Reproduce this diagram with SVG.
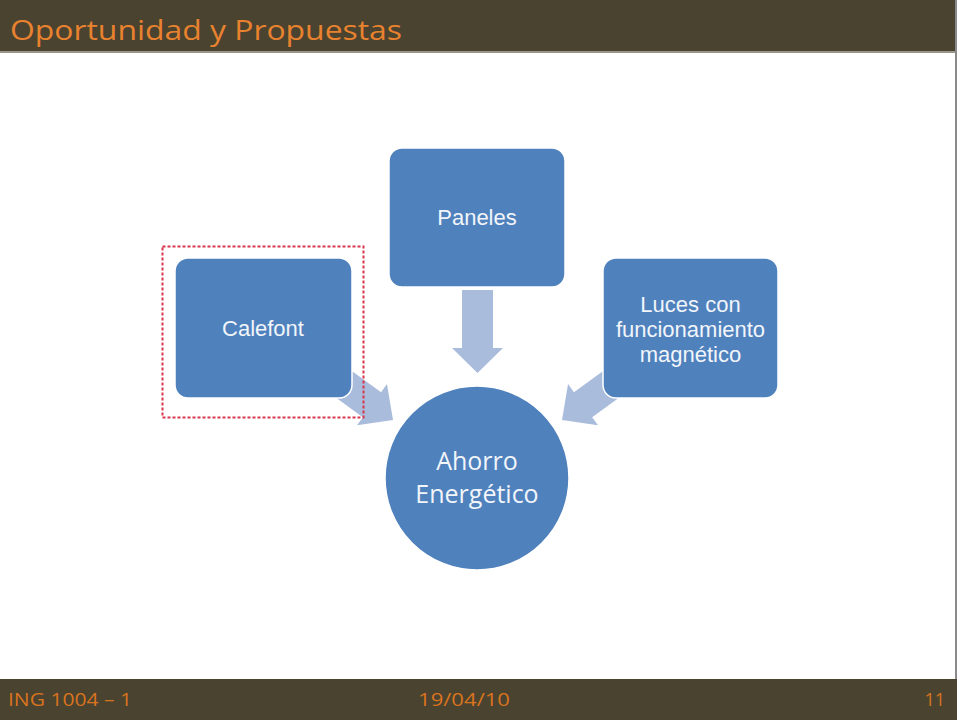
<svg xmlns="http://www.w3.org/2000/svg" width="960" height="720" viewBox="0 0 960 720">
<style>
.bar{fill:#4A4330}
.box{fill:#4F81BD;stroke:#FFFFFF;stroke-width:1.5}
.arr{fill:#A9BCDC}
.lbl{font-family:"Liberation Sans",Arial,sans-serif;fill:#F2F5FA;text-anchor:middle;font-size:22px}
.big{font-family:"Open Sans","Liberation Sans",sans-serif;fill:#F2F5FA;text-anchor:middle;font-size:25px}
.ftr{font-family:"Open Sans","Liberation Sans",sans-serif;fill:#D9731E;font-size:18px}
</style>
<defs>
<polygon id="arrowShape" points="-100,-15.5 -26,-15.5 -26,-25.5 0,0 -26,25.5 -26,15.5 -100,15.5"/>
</defs>
<rect x="0" y="0" width="960" height="720" fill="#FFFFFF"/>
<rect class="bar" x="0" y="0" width="957" height="51"/>
<rect x="0" y="51" width="957" height="2" fill="#9A968C"/>
<text x="10" y="40" font-family="'Open Sans','Liberation Sans',sans-serif" font-size="28" fill="#E8822E" textLength="392" lengthAdjust="spacingAndGlyphs">Oportunidad y Propuestas</text>
<rect x="955" y="0" width="2" height="720" fill="#8A8A8A"/>
<rect class="bar" x="0" y="679" width="957" height="41"/>
<text class="ftr" x="8" y="706" textLength="124" lengthAdjust="spacingAndGlyphs">ING 1004 – 1</text>
<text class="ftr" x="418" y="706" textLength="92" lengthAdjust="spacingAndGlyphs">19/04/10</text>
<text class="ftr" x="945" y="706" text-anchor="end">11</text>

<g id="connectors">
<use href="#arrowShape" class="arr" transform="translate(393,420) rotate(36)"/>
<use href="#arrowShape" class="arr" transform="translate(562,420) rotate(144)"/>
<polygon class="arr" points="462,290 493,290 493,348 503,348 477.5,373 452,348 462,348"/>
</g>

<g id="calefont">
<rect class="box" x="175" y="258" width="177" height="140" rx="13"/>
<text class="lbl" x="263" y="336">Calefont</text>
</g>
<rect id="selection" x="162.5" y="246.5" width="201" height="171" fill="none" stroke="#D8344A" stroke-width="2" stroke-dasharray="3,2"/>

<g id="paneles">
<rect class="box" x="389" y="148" width="176" height="139" rx="13"/>
<text class="lbl" x="477" y="225">Paneles</text>
</g>

<g id="luces">
<rect class="box" x="603" y="258" width="175" height="140" rx="13"/>
<text class="lbl"><tspan x="690.5" y="312">Luces con</tspan><tspan x="690.5" y="337">funcionamiento</tspan><tspan x="690.5" y="362">magnético</tspan></text>
</g>

<g id="ahorro">
<circle class="box" cx="477" cy="478" r="92"/>
<text class="big"><tspan x="477" y="470">Ahorro</tspan><tspan x="477" y="503">Energético</tspan></text>
</g>
</svg>
